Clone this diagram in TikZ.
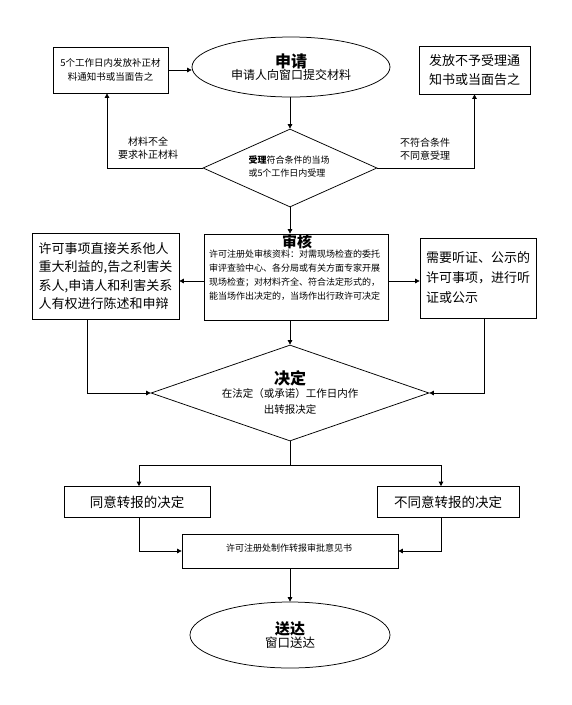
\documentclass[tikz,border=0pt]{standalone}
\usepackage{fontspec}
\setmainfont{Noto Sans CJK SC}
\usetikzlibrary{shapes.geometric,arrows.meta}
\begin{document}
\begin{tikzpicture}[x=1pt,y=-1pt,
  box/.style={draw,line width=0.75pt,inner sep=0pt},
  oval/.style={ellipse,draw,line width=0.75pt,inner sep=0pt,align=center},
  dia/.style={diamond,draw,line width=0.75pt,inner sep=0pt},
  arr/.style={-{Triangle[length=4.5pt,width=4.5pt]},line width=0.75pt},
  ln/.style={line width=0.75pt},
  big/.style={font=\fontsize{13}{18.5}\selectfont},
  small/.style={font=\fontsize{9}{14}\selectfont},
  lab/.style={font=\fontsize{10}{12.5}\selectfont,align=center}]
\useasboundingbox[fill=white] (0,0) rectangle (572,705);

% top row
\node[box,align=center,font=\fontsize{9.5}{14.5}\selectfont,minimum width=115pt,minimum height=46pt] (b1) at (110.5,70) {5个工作日内发放补正材\\料通知书或当面告之};
\node[oval,minimum width=198pt,minimum height=60pt] (e1) at (291,67) {{\fontsize{16}{20}\selectfont\bfseries 申请}\\{\fontsize{12}{15}\selectfont 申请人向窗口提交材料}};
\node[box,big,align=center,minimum width=111pt,minimum height=48pt] (b2) at (474.5,70) {发放不予受理通\\知书或当面告之};

% diamond 1
\node[dia,minimum width=174pt,minimum height=78pt] (d1) at (290,168) {};
\node[align=left,font=\fontsize{9}{13}\selectfont] (t1) at (289,166) {\textbf{受理}符合条件的当场\\或5个工作日内受理};
\node[lab] (l1) at (148,148) {材料不全\\要求补正材料};
\node[lab] (l2) at (425,149) {不符合条件\\不同意受理};

% review row
\node[box,minimum width=184pt,minimum height=86pt] (sh) at (296,277) {};
\node[font=\fontsize{15}{18}\selectfont\bfseries] (sht) at (297,242) {审核};
\node[small,align=left,anchor=north west,inner sep=0pt] (shx) at (209,250) {许可注册处审核资料：对需现场检查的委托\\审评查验中心、各分局或有关方面专家开展\\现场检查；对材料齐全、符合法定形式的，\\能当场作出决定的，当场作出行政许可决定};
\node[box,big,align=left,minimum width=147pt,minimum height=86pt] (b3) at (105.5,276) {许可事项直接关系他人\\重大利益的,告之利害关\\系人,申请人和利害关系\\人有权进行陈述和申辩};
\node[box,align=left,font=\fontsize{13}{20}\selectfont,minimum width=116pt,minimum height=80pt] (b4) at (478,278) {需要听证、公示的\\许可事项，进行听\\证或公示};

% diamond 2
\node[dia,minimum width=278pt,minimum height=96pt] (d2) at (290,393) {};
\node[font=\fontsize{16}{18}\selectfont\bfseries] (t2) at (290,378) {决定};
\node[align=center,font=\fontsize{10.5}{16}\selectfont] (t3) at (290,401) {在法定（或承诺）工作日内作\\出转报决定};

% decision boxes
\node[box,font=\fontsize{13.5}{16}\selectfont,minimum width=146pt,minimum height=31pt] (c1) at (137,502) {同意转报的决定};
\node[box,font=\fontsize{13.5}{16}\selectfont,minimum width=142pt,minimum height=31pt] (c2) at (448,502) {不同意转报的决定};
\node[box,minimum width=216pt,minimum height=34pt] (mk) at (290,551) {};
\node[small] (mkt) at (289,548) {许可注册处制作转报审批意见书};
\node[oval,minimum width=200pt,minimum height=66pt] (e2) at (290,635) {{\fontsize{15}{19}\selectfont\bfseries 送达}\\{\fontsize{12.5}{15}\selectfont 窗口送达}};

% connectors
\draw[arr] (b1.east) -- (b1.east -| e1.west);
\draw[arr] (d1.north |- e1.south) -- (d1.north);
\draw[arr] (d1.west) -| (b1.south -| 107,0);
\draw[arr] (d1.east) -| (b2.south);
\draw[arr] (d1.south) -- (d1.south |- sh.north);
\draw[arr] (sh.west |- 0,281) -- (b3.east |- 0,281);
\draw[arr] (sh.east |- 0,281) -- (b4.west |- 0,281);
\draw[arr] (d1.south |- sh.south) -- (d2.north);
\draw[arr] (b3.south -| 87,0) |- (d2.west);
\draw[arr] (b4.south -| 484,0) |- (d2.east);
\coordinate (sp) at (290,465);
\coordinate (sl) at (139,465);
\coordinate (sr) at (441,465);
\draw[ln] (d2.south) -- (sp);
\draw[ln] (sl) -- (sr);
\draw[arr] (sl) -- (sl |- c1.north);
\draw[arr] (sr) -- (sr |- c2.north);
\draw[arr] (c1.south -| sl) |- (mk.west);
\draw[arr] (c2.south -| sr) |- (mk.east);
\draw[arr] (mk.south) -- (e2.north);
\end{tikzpicture}
\end{document}
